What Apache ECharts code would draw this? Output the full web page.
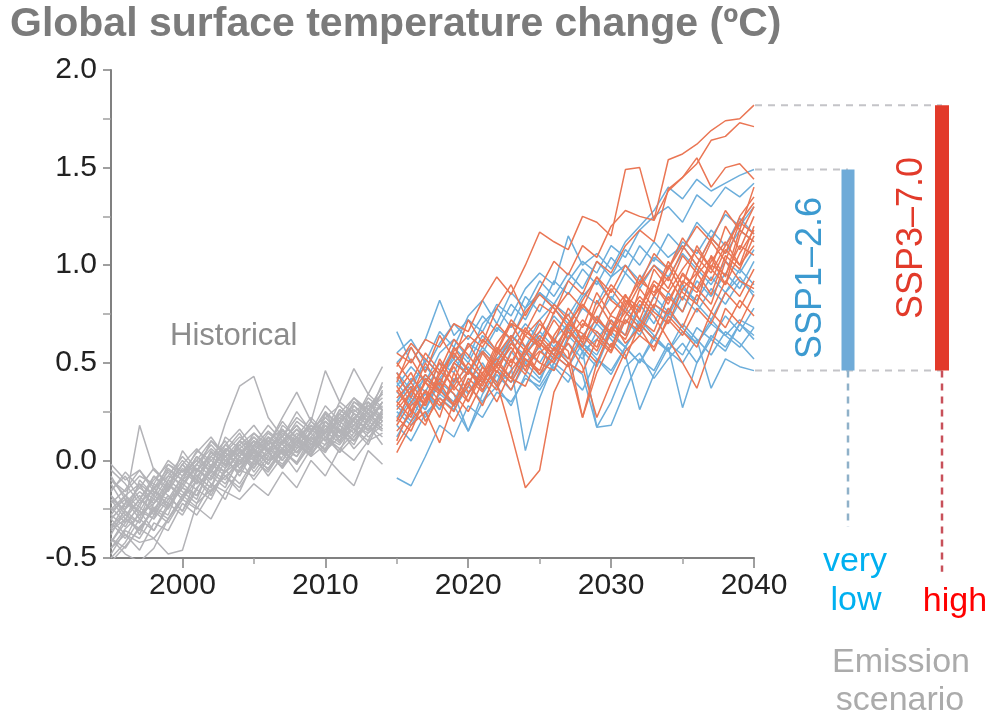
<!DOCTYPE html>
<html>
<head>
<meta charset="utf-8">
<title>Global surface temperature change</title>
<script src="https://cdn.jsdelivr.net/npm/echarts@6/dist/echarts.min.js"></script>
<style>
  html, body { margin: 0; padding: 0; background: #ffffff; }
  #chart { width: 990px; height: 717px; }
</style>
</head>
<body>
<div id="chart"></div>
<script>
// Years covered by the simulations
const histYears = [1995,1996,1997,1998,1999,2000,2001,2002,2003,2004,2005,2006,2007,2008,2009,2010,2011,2012,2013,2014];
const projYears = [2015,2016,2017,2018,2019,2020,2021,2022,2023,2024,2025,2026,2027,2028,2029,2030,2031,2032,2033,2034,2035,2036,2037,2038,2039,2040];

// Axis tick labels
const xMajorTicks = [2000, 2010, 2020, 2030, 2040];
const xMinorTicks = [2005, 2015, 2025, 2035];
const yTicks = [-0.5, 0.0, 0.5, 1.0, 1.5, 2.0];

// Historical ensemble members (ºC anomaly)
const historical = [
  [-0.02,-0.10,-0.05,-0.14,-0.08,0.02,-0.06,0.10,0.04,0.12,0.07,0.15,0.09,0.20,0.14,0.25,0.18,0.30,0.26,0.38],
  [-0.30,-0.22,0.18,-0.05,-0.12,-0.02,-0.10,0.05,-0.03,0.08,0.01,0.10,0.04,0.14,0.08,0.20,0.12,0.24,0.18,0.30],
  [-0.45,-0.35,-0.28,-0.20,-0.25,-0.12,-0.18,-0.05,-0.10,0.02,-0.04,0.06,0.00,0.10,0.03,0.15,0.09,0.22,0.15,0.25],
  [-0.50,-0.42,-0.30,-0.36,-0.22,-0.28,-0.15,-0.20,-0.05,-0.12,0.00,-0.06,0.05,-0.02,0.10,0.04,0.16,0.10,0.20,0.15],
  [-0.20,-0.25,-0.12,-0.18,-0.05,-0.10,0.02,-0.04,0.19,0.38,0.43,0.22,0.12,0.25,0.15,0.28,0.20,0.32,0.24,0.35],
  [-0.30,-0.38,-0.42,-0.40,-0.48,-0.46,-0.22,-0.15,-0.08,-0.02,0.04,-0.05,0.06,0.02,0.12,0.05,0.18,0.10,0.22,0.16],
  [-0.40,-0.48,-0.52,-0.45,-0.30,-0.20,-0.25,-0.12,-0.16,-0.05,-0.08,0.02,-0.03,0.08,0.03,0.12,0.08,0.18,0.14,0.22],
  [-0.15,-0.08,-0.20,-0.10,-0.02,-0.08,0.05,0.00,0.08,0.02,0.12,0.05,0.15,0.10,0.18,0.12,0.22,0.28,0.20,0.30],
  [-0.35,-0.28,-0.32,-0.18,-0.24,-0.10,-0.15,-0.02,-0.06,0.05,0.00,0.08,0.12,0.04,0.15,0.20,0.10,0.25,0.30,0.22],
  [-0.25,-0.18,-0.28,-0.22,-0.15,0.05,-0.05,0.02,-0.04,0.10,0.06,0.00,0.14,0.08,0.02,0.16,0.24,0.18,0.28,0.26],
  [-0.42,-0.30,-0.35,-0.25,-0.30,-0.18,-0.08,-0.14,0.00,-0.06,0.05,0.10,0.03,0.12,0.18,0.10,0.22,0.16,0.26,0.32],
  [-0.10,-0.18,-0.12,-0.25,-0.15,-0.05,-0.12,0.02,0.10,-0.02,0.08,0.02,0.18,0.12,0.06,0.20,0.15,0.08,0.22,0.28],
  [-0.32,-0.40,-0.26,-0.30,-0.12,-0.20,-0.05,-0.10,0.04,-0.02,0.10,0.04,-0.02,0.08,0.14,0.05,0.12,0.24,0.18,0.12],
  [-0.22,-0.15,-0.05,-0.16,-0.20,-0.08,0.00,0.10,0.02,0.06,-0.04,0.12,0.08,0.02,0.16,0.22,0.14,0.20,0.34,0.27],
  [-0.48,-0.36,-0.40,-0.28,-0.18,-0.26,-0.14,-0.06,-0.12,0.00,0.06,-0.02,0.09,0.16,0.08,0.14,0.26,0.20,0.16,0.24],
  [-0.18,-0.28,-0.20,-0.08,-0.14,-0.02,0.06,-0.03,0.05,0.14,0.02,0.08,0.20,0.11,0.05,0.18,0.12,0.28,0.22,0.40],
  [-0.38,-0.25,-0.18,-0.28,-0.10,-0.16,-0.22,-0.08,0.02,0.06,-0.06,0.04,0.10,0.18,0.10,0.06,0.20,0.14,0.30,0.20],
  [-0.28,-0.34,-0.22,-0.14,-0.24,-0.12,-0.02,-0.08,-0.14,0.02,0.10,0.05,-0.04,0.06,0.12,0.22,0.16,0.10,0.18,0.08],
  [-0.05,-0.12,-0.22,-0.15,-0.06,-0.14,-0.02,0.06,0.00,0.08,0.14,0.06,0.12,0.22,0.16,0.10,0.24,0.32,0.26,0.34],
  [-0.45,-0.38,-0.46,-0.32,-0.36,-0.22,-0.28,-0.16,-0.08,-0.14,-0.02,0.04,-0.04,0.10,0.02,0.08,0.16,0.06,0.14,0.20],
  [-0.26,-0.20,-0.30,-0.12,-0.18,-0.26,-0.10,-0.18,-0.04,0.04,-0.02,0.10,0.05,-0.01,0.12,0.08,0.26,0.20,0.12,0.18],
  [-0.12,-0.24,-0.16,-0.22,-0.10,0.00,-0.08,-0.14,0.06,0.00,0.04,0.14,0.08,0.16,0.06,0.24,0.14,0.18,0.26,0.22],
  [-0.35,-0.22,-0.26,-0.36,-0.24,-0.14,-0.20,-0.02,-0.08,-0.16,0.00,-0.04,0.06,-0.02,0.08,0.14,0.04,0.12,0.20,0.30],
  [-0.20,-0.30,-0.36,-0.24,-0.28,-0.10,-0.04,-0.12,-0.20,-0.04,0.02,-0.08,0.02,0.10,0.20,0.12,0.04,0.22,0.16,0.26],
  [-0.30,-0.22,-0.14,-0.20,-0.08,-0.12,-0.04,-0.10,0.02,-0.08,0.05,-0.02,0.10,0.04,0.12,0.02,-0.06,-0.13,0.05,-0.02],
  [-0.40,-0.45,-0.34,-0.26,-0.32,-0.20,-0.10,-0.16,-0.06,0.00,-0.10,0.00,0.04,-0.06,0.06,0.12,0.06,0.14,0.24,0.18],
  [-0.16,-0.06,-0.14,-0.04,-0.12,-0.20,-0.06,0.04,-0.02,0.06,0.12,0.04,0.16,0.08,0.20,0.14,0.30,0.24,0.20,0.36],
  [-0.24,-0.32,-0.10,-0.18,-0.02,-0.06,0.00,-0.06,0.08,0.16,0.06,0.12,0.00,0.10,0.06,0.18,0.10,0.16,0.08,0.24],
  [-0.10,-0.16,-0.08,-0.12,0.00,-0.06,0.04,0.12,0.02,0.10,0.18,0.08,0.22,0.35,0.20,0.46,0.30,0.47,0.34,0.48],
  [-0.52,-0.44,-0.35,-0.40,-0.30,-0.18,-0.24,-0.30,-0.16,-0.20,-0.12,-0.18,-0.06,-0.14,0.00,-0.08,0.06,0.00,0.10,0.14],
  [-0.28,-0.18,-0.24,-0.08,-0.16,-0.04,-0.10,0.04,-0.02,0.10,0.02,0.12,0.06,0.16,0.10,0.22,0.28,0.20,0.32,0.26],
  [-0.36,-0.30,-0.20,-0.26,-0.14,-0.02,-0.12,-0.06,0.06,0.02,0.14,0.08,0.00,0.12,0.22,0.14,0.20,0.26,0.20,0.30],
  [-0.18,-0.26,-0.32,-0.16,-0.22,-0.08,-0.02,0.08,0.00,-0.06,0.08,0.18,0.10,0.04,0.14,0.24,0.18,0.12,0.26,0.20],
  [-0.42,-0.32,-0.24,-0.30,-0.20,-0.14,-0.18,-0.04,0.04,-0.04,0.06,-0.02,0.10,0.18,0.08,0.16,0.12,0.22,0.28,0.34],
  [-0.08,-0.20,-0.26,-0.14,-0.04,-0.10,0.02,-0.06,0.12,0.06,0.00,0.10,0.16,0.06,0.18,0.10,0.24,0.16,0.10,0.26],
  [-0.34,-0.26,-0.38,-0.22,-0.12,-0.18,-0.08,0.00,-0.06,0.04,0.10,0.00,0.06,0.12,0.04,0.20,0.14,0.30,0.24,0.16]
];

// SSP1-2.6 (very low emissions) ensemble members
const ssp126 = [
  [-0.09,-0.13,0.02,0.18,0.12,0.28,0.22,0.35,0.30,0.42,0.38,0.50,0.44,0.36,0.52,0.46,0.58,0.50,0.62,0.56,0.66,0.60,0.70,0.64,0.72,0.68],
  [0.66,0.50,0.62,0.82,0.64,0.72,0.66,0.80,0.74,0.88,0.96,0.90,1.15,1.00,1.06,0.98,1.12,1.20,1.28,1.40,1.34,1.44,1.38,1.42,1.46,1.49],
  [0.30,0.42,0.35,0.50,0.45,0.60,0.55,0.68,0.62,0.78,0.86,0.80,0.92,1.02,0.96,1.10,1.04,1.18,1.25,1.30,1.22,1.36,1.30,1.40,1.35,1.42],
  [0.20,0.32,0.26,0.40,0.34,0.15,0.30,0.38,0.28,0.44,0.36,0.48,0.40,0.56,0.17,0.30,0.48,0.55,0.42,0.52,0.60,0.50,0.64,0.58,0.70,0.62],
  [0.45,0.36,0.52,0.44,0.58,0.50,0.64,0.56,0.48,0.05,0.32,0.50,0.60,0.52,0.66,0.58,0.72,0.64,0.78,0.70,0.84,0.76,0.88,0.80,0.92,0.86],
  [0.25,0.18,0.30,0.38,0.28,0.15,0.34,0.46,0.40,0.52,0.44,0.58,0.50,0.44,0.17,0.18,0.36,0.52,0.46,0.60,0.54,0.68,0.62,0.74,0.66,0.78],
  [0.38,0.48,0.40,0.55,0.62,0.52,0.70,0.78,0.68,0.84,0.76,0.92,0.85,0.98,0.90,1.04,0.96,1.10,1.02,1.16,1.08,1.22,1.14,1.26,1.20,1.30],
  [0.12,0.25,0.34,0.26,0.40,0.48,0.36,0.50,0.42,0.56,0.62,0.54,0.66,0.58,0.70,0.62,0.54,0.26,0.44,0.58,0.27,0.50,0.62,0.56,0.70,0.64],
  [0.50,0.58,0.46,0.60,0.70,0.62,0.74,0.66,0.80,0.72,0.86,0.78,0.70,0.84,0.92,0.82,0.96,0.88,1.00,0.94,1.06,0.98,0.90,1.02,0.96,1.08],
  [0.35,0.28,0.44,0.36,0.30,0.46,0.40,0.54,0.62,0.50,0.58,0.46,0.64,0.56,0.48,0.66,0.58,0.72,0.64,0.56,0.70,0.62,0.37,0.52,0.48,0.46],
  [0.22,0.34,0.42,0.36,0.50,0.44,0.56,0.48,0.60,0.70,0.62,0.74,0.66,0.78,0.72,0.84,0.76,0.68,0.80,0.74,0.88,0.82,0.94,0.86,0.98,0.90],
  [0.55,0.62,0.50,0.66,0.58,0.74,0.82,0.70,0.86,0.78,0.92,0.84,0.96,0.88,1.02,0.94,1.08,1.00,1.12,1.04,1.10,1.00,1.14,1.06,1.18,1.12],
  [0.30,0.40,0.48,0.40,0.54,0.46,0.40,0.52,0.60,0.54,0.66,0.58,0.52,0.64,0.72,0.64,0.58,0.70,0.62,0.76,0.68,0.60,0.72,0.64,0.58,0.68],
  [0.42,0.34,0.26,0.42,0.52,0.44,0.58,0.50,0.64,0.58,0.72,0.80,0.74,0.86,0.80,0.94,1.00,0.92,1.04,0.98,1.12,1.06,1.18,1.10,1.24,1.16],
  [0.18,0.10,0.24,0.32,0.26,0.38,0.30,0.44,0.36,0.50,0.42,0.54,0.48,0.60,0.52,0.44,0.58,0.50,0.64,0.56,0.50,0.62,0.54,0.66,0.60,0.52],
  [0.28,0.20,0.36,0.26,0.42,0.34,0.48,0.40,0.56,0.46,0.40,0.58,0.68,0.56,0.62,0.72,0.64,0.80,0.70,0.86,0.76,0.92,0.84,0.96,0.88,1.02],
  [0.40,0.30,0.22,0.34,0.28,0.40,0.50,0.38,0.46,0.56,0.50,0.62,0.70,0.60,0.54,0.68,0.78,0.70,0.84,0.76,0.90,0.80,0.72,0.86,0.94,0.84]
];

// SSP3-7.0 (high emissions) ensemble members
const ssp370 = [
  [0.55,0.50,0.62,0.58,0.70,0.66,0.82,0.94,0.85,1.00,1.17,1.12,1.08,1.25,1.22,1.15,1.49,1.50,1.23,1.54,1.57,1.62,1.69,1.74,1.75,1.82],
  [0.40,0.58,0.45,0.64,0.52,0.72,0.60,0.78,0.90,0.74,0.88,1.02,0.95,1.10,1.04,1.20,1.28,1.25,1.23,1.38,1.45,1.52,1.64,1.66,1.73,1.71],
  [0.30,0.22,0.42,0.35,0.50,0.44,0.62,0.55,0.70,0.66,0.80,0.75,0.92,0.85,1.02,0.96,1.10,1.18,1.12,1.39,1.45,1.55,1.40,1.50,1.52,1.44],
  [0.10,0.28,0.35,0.22,0.45,0.30,0.48,0.40,0.14,-0.14,-0.05,0.35,0.50,0.45,0.62,0.55,0.72,0.66,0.80,0.75,0.92,0.86,1.00,0.95,1.10,1.05],
  [0.04,0.18,0.25,0.09,0.30,0.40,0.28,0.46,0.36,0.52,0.44,0.58,0.50,0.22,0.45,0.60,0.52,0.70,0.62,0.78,0.68,0.85,0.76,0.92,0.84,0.98],
  [0.35,0.45,0.30,0.52,0.40,0.60,0.48,0.38,0.55,0.68,0.58,0.72,0.62,0.80,0.70,0.88,0.78,0.95,0.84,1.02,0.90,1.10,0.98,1.20,1.08,1.25],
  [0.22,0.15,0.32,0.40,0.28,0.38,0.55,0.45,0.60,0.52,0.46,0.64,0.75,0.60,0.82,0.70,0.64,0.88,0.78,1.00,0.86,0.80,1.05,0.94,1.18,1.12],
  [0.45,0.32,0.50,0.38,0.58,0.46,0.40,0.56,0.48,0.66,0.60,0.54,0.70,0.65,0.58,0.75,0.85,0.72,0.90,0.82,0.95,0.88,0.80,1.02,0.92,0.88],
  [0.28,0.38,0.20,0.32,0.25,0.42,0.35,0.50,0.62,0.48,0.56,0.50,0.68,0.58,0.74,0.64,0.82,0.72,0.66,0.84,0.76,0.95,1.04,0.90,1.15,1.30],
  [0.18,0.30,0.40,0.30,0.20,0.34,0.45,0.52,0.42,0.38,0.55,0.62,0.52,0.70,0.66,0.58,0.74,0.84,0.76,0.70,0.88,0.96,0.85,1.05,0.98,1.15],
  [0.50,0.40,0.55,0.46,0.62,0.54,0.44,0.60,0.70,0.58,0.66,0.80,0.72,0.62,0.78,0.90,0.82,0.76,0.98,0.88,1.05,0.96,1.12,1.02,1.22,1.32],
  [0.38,0.26,0.18,0.36,0.48,0.35,0.42,0.30,0.46,0.56,0.44,0.52,0.60,0.48,0.22,0.40,0.56,0.64,0.58,0.72,0.64,0.78,0.70,0.86,0.78,0.92],
  [0.15,0.24,0.36,0.28,0.38,0.50,0.42,0.58,0.50,0.64,0.72,0.60,0.78,0.68,0.86,0.74,0.70,0.82,0.74,0.62,0.50,0.37,0.58,0.78,0.70,0.85],
  [0.26,0.35,0.44,0.36,0.28,0.46,0.38,0.54,0.64,0.56,0.70,0.62,0.56,0.22,0.50,0.66,0.76,0.68,0.84,0.94,0.82,1.00,0.92,1.08,1.00,1.20],
  [0.42,0.52,0.40,0.34,0.50,0.58,0.66,0.56,0.72,0.64,0.58,0.76,0.86,0.78,0.94,0.82,0.76,0.90,1.00,0.92,1.08,1.20,1.12,1.28,1.18,1.40],
  [0.32,0.40,0.28,0.44,0.55,0.46,0.36,0.48,0.58,0.46,0.62,0.54,0.48,0.64,0.56,0.72,0.60,0.68,0.56,0.74,0.66,0.58,0.76,0.68,0.82,0.74],
  [0.08,0.20,0.30,0.42,0.34,0.25,0.40,0.50,0.42,0.58,0.50,0.46,0.62,0.72,0.64,0.56,0.80,0.92,0.86,0.98,1.10,1.00,1.14,1.06,1.25,1.35],
  [0.48,0.60,0.52,0.44,0.56,0.64,0.58,0.70,0.62,0.76,0.85,0.78,0.68,0.82,0.94,0.86,1.00,0.90,1.06,0.98,1.14,1.04,0.96,1.10,1.22,1.16],
  [0.20,0.36,0.28,0.46,0.38,0.30,0.44,0.36,0.52,0.44,0.60,0.52,0.66,0.58,0.50,0.68,0.62,0.78,0.90,0.80,0.96,0.88,1.02,1.12,1.00,1.10],
  [0.36,0.25,0.40,0.50,0.36,0.46,0.56,0.48,0.40,0.54,0.64,0.56,0.70,0.80,0.72,0.66,0.84,0.78,0.92,0.86,0.98,1.08,0.98,0.90,1.06,1.18]
];

// Projected range in 2040 for each scenario: [low, high]
const rangeSSP126 = [0.46, 1.49];
const rangeSSP370 = [0.46, 1.82];

// Colours
const C_HIST = '#b3b3b7';
const C_BLUE = '#6caedb';
const C_ORANGE = '#ea7654';
const C_BAR_BLUE = '#6fabd8';
const C_BAR_RED = '#e23a2a';
const C_GUIDE = '#c4c4c8';

// Horizontal placement of the scenario bars within the side panel (panel units = px)
const BAR_X_BLUE = 93;
const BAR_X_RED = 187;

function member(years, values, color, name) {
  return {
    type: 'line', name: name, xAxisIndex: 0, yAxisIndex: 0,
    data: years.map((y, i) => [y, values[i]]),
    showSymbol: false, silent: true, animation: false,
    lineStyle: { color: color, width: 1.5 },
    z: 2
  };
}

function side(data, color, width, dashed, z) {
  return {
    type: 'line', xAxisIndex: 2, yAxisIndex: 1,
    data: data, showSymbol: false, silent: true, animation: false,
    lineStyle: { color: color, width: width, type: dashed ? [7, 6] : 'solid', cap: 'butt' },
    z: z || 3
  };
}

const series = [];
historical.forEach((v, i) => series.push(member(histYears, v, C_HIST, 'hist' + i)));
ssp126.forEach((v, i) => series.push(member(projYears, v, C_BLUE, 'ssp126_' + i)));
ssp370.forEach((v, i) => series.push(member(projYears, v, C_ORANGE, 'ssp370_' + i)));

// Guides linking the 2040 spread to the scenario bars
series.push(side([[0, rangeSSP370[1]], [BAR_X_RED, rangeSSP370[1]]], C_GUIDE, 2, true));
series.push(side([[0, rangeSSP126[1]], [BAR_X_BLUE, rangeSSP126[1]]], C_GUIDE, 2, true));
series.push(side([[0, rangeSSP126[0]], [BAR_X_RED, rangeSSP370[0]]], C_GUIDE, 2, true));
// Drop lines to the emission labels
series.push(side([[BAR_X_BLUE, rangeSSP126[0]], [BAR_X_BLUE, -0.34]], '#8fb1c9', 2.5, true));
series.push(side([[BAR_X_RED, rangeSSP370[0]], [BAR_X_RED, -0.57]], '#c8505a', 2.5, true));
// Scenario range bars
series.push(side([[BAR_X_BLUE, rangeSSP126[0]], [BAR_X_BLUE, rangeSSP126[1]]], C_BAR_BLUE, 13, false, 5));
series.push(side([[BAR_X_RED, rangeSSP370[0]], [BAR_X_RED, rangeSSP370[1]]], C_BAR_RED, 14, false, 5));

const FONT = 'Liberation Sans, Arial, sans-serif';

const option = {
  backgroundColor: '#ffffff',
  animation: false,
  title: {
    text: 'Global surface temperature change (ºC)',
    left: 5, top: -1,
    textStyle: { fontFamily: FONT, fontSize: 41, fontWeight: 'bold', color: '#7b7b7b' }
  },
  grid: [
    { left: 111, top: 70, width: 643, height: 488 },
    { left: 755, top: 70, width: 235, height: 507.52 }
  ],
  xAxis: [
    {
      type: 'value', gridIndex: 0, min: 1995, max: 2040,
      axisLine: { show: true, onZero: false, lineStyle: { color: '#808080', width: 2 } },
      axisTick: { show: true, customValues: xMajorTicks, length: 10, lineStyle: { color: '#808080', width: 1.5 } },
      axisLabel: {
        customValues: xMajorTicks, fontFamily: FONT, fontSize: 30, color: '#222222', margin: 13,
        formatter: v => String(v)
      },
      splitLine: { show: false }
    },
    {
      type: 'value', gridIndex: 0, min: 1995, max: 2040, position: 'bottom',
      axisLine: { show: false, onZero: false },
      axisTick: { show: true, customValues: xMinorTicks, length: 6, lineStyle: { color: '#a0a0a0', width: 1.5 } },
      axisLabel: { show: false },
      splitLine: { show: false }
    },
    {
      type: 'value', gridIndex: 1, min: 0, max: 235, show: false
    }
  ],
  yAxis: [
    {
      type: 'value', gridIndex: 0, min: -0.5, max: 2.0, interval: 0.5,
      axisLine: { show: true, onZero: false, lineStyle: { color: '#808080', width: 2 } },
      axisTick: { show: true, length: 8, lineStyle: { color: '#808080', width: 1.5 } },
      minorTick: { show: true, splitNumber: 2, length: 8, lineStyle: { color: '#a0a0a0', width: 1.5 } },
      axisLabel: {
        fontFamily: FONT, fontSize: 30, color: '#222222', margin: 14,
        customValues: yTicks,
        formatter: v => v.toFixed(1)
      },
      splitLine: { show: false }
    },
    {
      type: 'value', gridIndex: 1, min: -0.6, max: 2.0, show: false
    }
  ],
  graphic: [
    { type: 'text', left: 170, top: 321, silent: true,
      style: { text: 'Historical', font: '31px ' + FONT, fill: '#8c8c8c' } },
    { type: 'text', x: 811, y: 278, rotation: Math.PI / 2, silent: true,
      style: { text: 'SSP1–2.6', font: '36px ' + FONT, fill: '#3c9ad0', align: 'center', verticalAlign: 'middle' } },
    { type: 'text', x: 912, y: 238, rotation: Math.PI / 2, silent: true,
      style: { text: 'SSP3–7.0', font: '36px ' + FONT, fill: '#e23a2a', align: 'center', verticalAlign: 'middle' } },
    { type: 'text', x: 855, y: 562, silent: true,
      style: { text: 'very', font: '34px ' + FONT, fill: '#00b0f0', align: 'center', verticalAlign: 'middle' } },
    { type: 'text', x: 856, y: 601, silent: true,
      style: { text: 'low', font: '34px ' + FONT, fill: '#00b0f0', align: 'center', verticalAlign: 'middle' } },
    { type: 'text', x: 955, y: 602, silent: true,
      style: { text: 'high', font: '34px ' + FONT, fill: '#ff0000', align: 'center', verticalAlign: 'middle' } },
    { type: 'text', x: 901, y: 663, silent: true,
      style: { text: 'Emission', font: '34px ' + FONT, fill: '#ababab', align: 'center', verticalAlign: 'middle' } },
    { type: 'text', x: 900, y: 701, silent: true,
      style: { text: 'scenario', font: '34px ' + FONT, fill: '#ababab', align: 'center', verticalAlign: 'middle' } }
  ],
  series: series
};

const chart = echarts.init(document.getElementById('chart'), null, { renderer: 'canvas' });
chart.setOption(option);
</script>
</body>
</html>
